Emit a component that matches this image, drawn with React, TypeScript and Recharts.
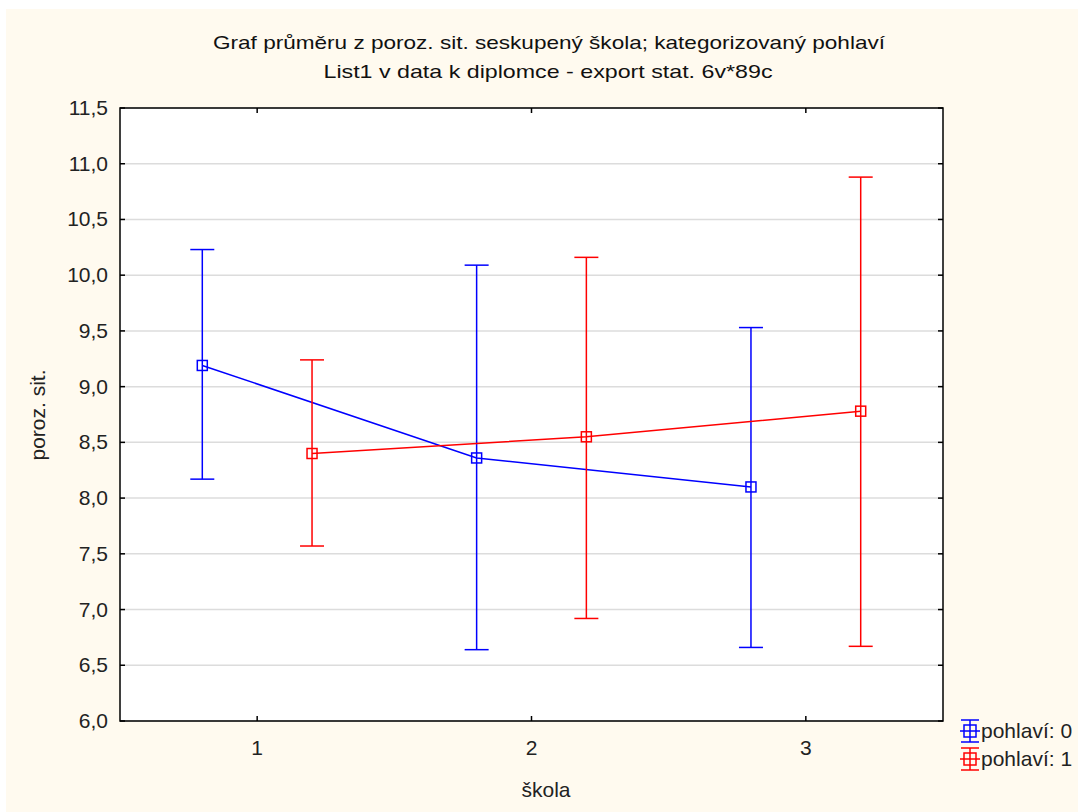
import React from 'react'
import { LineChart, Line, XAxis, YAxis, CartesianGrid, ErrorBar, ReferenceArea } from 'recharts'

// škola categories and the two pohlaví groups (mean with lower/upper interval)
const skola = [1, 2, 3]
const mean0 = [9.19, 8.36, 8.1]
const low0 = [8.17, 6.64, 6.66]
const high0 = [10.23, 10.09, 9.53]
const mean1 = [8.4, 8.55, 8.78]
const low1 = [7.57, 6.92, 6.67]
const high1 = [9.24, 10.16, 10.88]
const yTicks = [6, 6.5, 7, 7.5, 8, 8.5, 9, 9.5, 10, 10.5, 11, 11.5]

const SHIFT = 0.2 // groups are drawn side by side around each category

const build = (mean: number[], low: number[], high: number[], shift: number) =>
  skola.map((s, i) => ({
    x: s + shift,
    mean: mean[i],
    err: [mean[i] - low[i], high[i] - mean[i]],
  }))

const group0 = build(mean0, low0, high0, -SHIFT)
const group1 = build(mean1, low1, high1, SHIFT)

const BLUE = '#0000ff'
const RED = '#ff0000'
const FONT = '"Liberation Sans", Arial, sans-serif'

const PLOT = { left: 120, right: 943, top: 108, bottom: 721 }

const fmt = (v: number) => v.toFixed(1).replace('.', ',')

const YTick = (props: any) => {
  const y = props.y
  return (
    <g>
      <text x={108} y={y + 7} textAnchor="end" fontSize={21} fill="#222" fontFamily={FONT}>
        {fmt(props.payload.value)}
      </text>
      <line x1={PLOT.left} x2={PLOT.left + 5} y1={y} y2={y} stroke="#000" strokeWidth={1.5} />
      <line x1={PLOT.right - 5} x2={PLOT.right} y1={y} y2={y} stroke="#000" strokeWidth={1.5} />
    </g>
  )
}

const XTick = (props: any) => {
  const x = props.x
  return (
    <g>
      <text x={x} y={755} textAnchor="middle" fontSize={21} fill="#222" fontFamily={FONT}>
        {props.payload.value}
      </text>
      <line x1={x} x2={x} y1={PLOT.bottom} y2={PLOT.bottom - 5} stroke="#000" strokeWidth={1.5} />
      <line x1={x} x2={x} y1={PLOT.top} y2={PLOT.top + 5} stroke="#000" strokeWidth={1.5} />
    </g>
  )
}

const squareDot = (color: string) => (props: any) => {
  const { cx, cy, index } = props
  if (cx == null || cy == null) return <g key={index} />
  return <rect key={index} x={cx - 5} y={cy - 5} width={10} height={10} fill="none" stroke={color} strokeWidth={1.5} />
}

const LegendIcon = ({ y, color }: { y: number; color: string }) => (
  <g stroke={color} strokeWidth={1.5} fill="none">
    <line x1={961} x2={979} y1={y - 11} y2={y - 11} />
    <line x1={961} x2={979} y1={y + 11} y2={y + 11} />
    <line x1={970} x2={970} y1={y - 11} y2={y + 11} />
    <line x1={960} x2={980} y1={y} y2={y} />
    <rect x={964} y={y - 6} width={12} height={12} />
  </g>
)

export default function App() {
  return (
    <div style={{ position: 'absolute', left: 0, top: 0, width: 1078, height: 812, background: '#fff' }}>
      <div style={{ position: 'absolute', left: 6, top: 9, width: 1072, height: 803, background: '#fffaef' }} />
      <div style={{ position: 'absolute', left: 0, top: 0 }}>
        <LineChart
          width={1078}
          height={812}
          margin={{ top: PLOT.top, right: 1078 - PLOT.right, bottom: 812 - PLOT.bottom - 40, left: 0 }}
        >
          <CartesianGrid horizontal vertical={false} stroke="#dcdcdc" strokeWidth={1.5} fill="#fff" />
          <XAxis
            type="number"
            dataKey="x"
            domain={[0.5, 3.5]}
            ticks={skola}
            allowDataOverflow
            height={40}
            axisLine={false}
            tickLine={false}
            tick={<XTick />}
          />
          <YAxis
            type="number"
            domain={[6, 11.5]}
            ticks={yTicks}
            allowDataOverflow
            width={PLOT.left}
            axisLine={false}
            tickLine={false}
            tick={<YTick />}
          />
          <ReferenceArea x1={0.5} x2={3.5} y1={6} y2={11.5} fill="none" stroke="#000" strokeWidth={1.5} fillOpacity={0} />
          <Line
            data={group0}
            dataKey="mean"
            stroke={BLUE}
            strokeWidth={1.5}
            dot={squareDot(BLUE)}
            activeDot={false}
            isAnimationActive={false}
          >
            <ErrorBar dataKey="err" width={12} stroke={BLUE} strokeWidth={1.5} direction="y" isAnimationActive={false} />
          </Line>
          <Line
            data={group1}
            dataKey="mean"
            stroke={RED}
            strokeWidth={1.5}
            dot={squareDot(RED)}
            activeDot={false}
            isAnimationActive={false}
          >
            <ErrorBar dataKey="err" width={12} stroke={RED} strokeWidth={1.5} direction="y" isAnimationActive={false} />
          </Line>
        </LineChart>
      </div>
      <svg width={1078} height={812} style={{ position: 'absolute', left: 0, top: 0, pointerEvents: 'none' }} fontFamily={FONT}>
        <text x={549} y={49} textAnchor="middle" fontSize={19} fill="#111" textLength={672} lengthAdjust="spacingAndGlyphs">
          Graf průměru z poroz. sit. seskupený škola; kategorizovaný pohlaví
        </text>
        <text x={548} y={78} textAnchor="middle" fontSize={19} fill="#111" textLength={449} lengthAdjust="spacingAndGlyphs">
          List1 v data k diplomce - export stat. 6v*89c
        </text>
        <text x={546} y={797} textAnchor="middle" fontSize={21} fill="#222">
          škola
        </text>
        <text x={45} y={415} textAnchor="middle" fontSize={21} fill="#222" transform="rotate(-90 45 415)">
          poroz. sit.
        </text>
        <LegendIcon y={731} color={BLUE} />
        <text x={981} y={738} fontSize={21} fill="#222">pohlaví: 0</text>
        <LegendIcon y={759} color={RED} />
        <text x={981} y={766} fontSize={21} fill="#222">pohlaví: 1</text>
      </svg>
    </div>
  )
}
